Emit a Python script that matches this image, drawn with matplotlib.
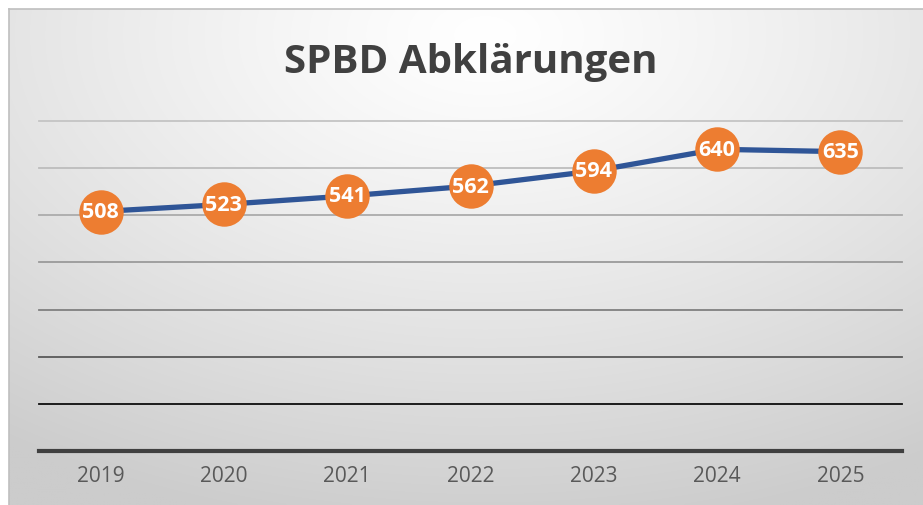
import numpy as np
import matplotlib
matplotlib.use("Agg")
import matplotlib.pyplot as plt

years = ["2019", "2020", "2021", "2022", "2023", "2024", "2025"]
values = [508, 523, 541, 562, 594, 640, 635]
title = "SPBD Abklärungen"
yticks = [0, 100, 200, 300, 400, 500, 600, 700]
grid_colors = ["#404040", "#0d0d0d", "#595959", "#808080", "#9a9a9a", "#ababab", "#bdbdbd", "#c4c4c4"]

W, H = 923, 506
fig = plt.figure(figsize=(W / 100, H / 100), dpi=100)
fig.patch.set_facecolor("white")

# background chart area with gradient
bg = fig.add_axes([9 / W, 0, (W - 9) / W, (H - 10) / H])
ny, nx = 200, 400
yy, xx = np.mgrid[0:ny, 0:nx]
cx, cy = nx * 0.52, ny * 0.05
d = np.sqrt(((xx - cx) / nx) ** 2 + ((yy - cy) / ny) ** 2 * 0.8)
d = d / d.max()
shade = 1.0 - 0.2 * np.clip(d * 1.1, 0, 1) ** 1.2
img = np.dstack([shade, shade, shade])
bg.imshow(img, aspect="auto", extent=[0, 1, 0, 1], origin="upper", interpolation="bilinear")
bg.set_xlim(0, 1)
bg.set_ylim(0, 1)
bg.set_xticks([])
bg.set_yticks([])
for name, s in bg.spines.items():
    s.set_color("#bfbfbf")
    s.set_linewidth(1.2)
    if name in ("right", "bottom"):
        s.set_visible(False)

ax = fig.add_axes([39 / W, (H - 452) / H, (902 - 39) / W, (452 - 122) / H])
ax.patch.set_alpha(0)
x = np.arange(len(years))
ax.set_xlim(-0.5, len(years) - 0.5)
ax.set_ylim(0, 700)
ax.set_yticks(yticks)
ax.yaxis.grid(True)
ax.set_axisbelow(True)
for gl, c, v in zip(ax.get_ygridlines(), grid_colors, yticks):
    gl.set_color(c)
    gl.set_linewidth(3.0 if v == 0 else 1.3)
    gl.set_clip_on(False)
for s in ax.spines.values():
    s.set_visible(False)
ax.tick_params(axis="y", left=False, labelleft=False)
ax.set_xticks(x)
ax.set_xticklabels(years, fontfamily="Open Sans", fontsize=15, color="#595959")
ax.tick_params(axis="x", length=0, pad=10)

ax.plot(x, values, color="#2F5597", lw=3.8, zorder=3, solid_capstyle="round")
ax.scatter(x, values, s=32 ** 2, color="#ED7D31", zorder=4, linewidths=0)
for xi, v in zip(x, values):
    ax.text(xi, v, str(v), ha="center", va="center", color="white",
            fontsize=15.5, fontweight="bold", fontfamily="Open Sans", zorder=5)

fig.text(471 / W, 1 - 62 / H, title, ha="center", va="center",
         fontsize=29, fontweight="bold", fontfamily="Open Sans", color="#404040")

fig.savefig("out.png", dpi=100)
